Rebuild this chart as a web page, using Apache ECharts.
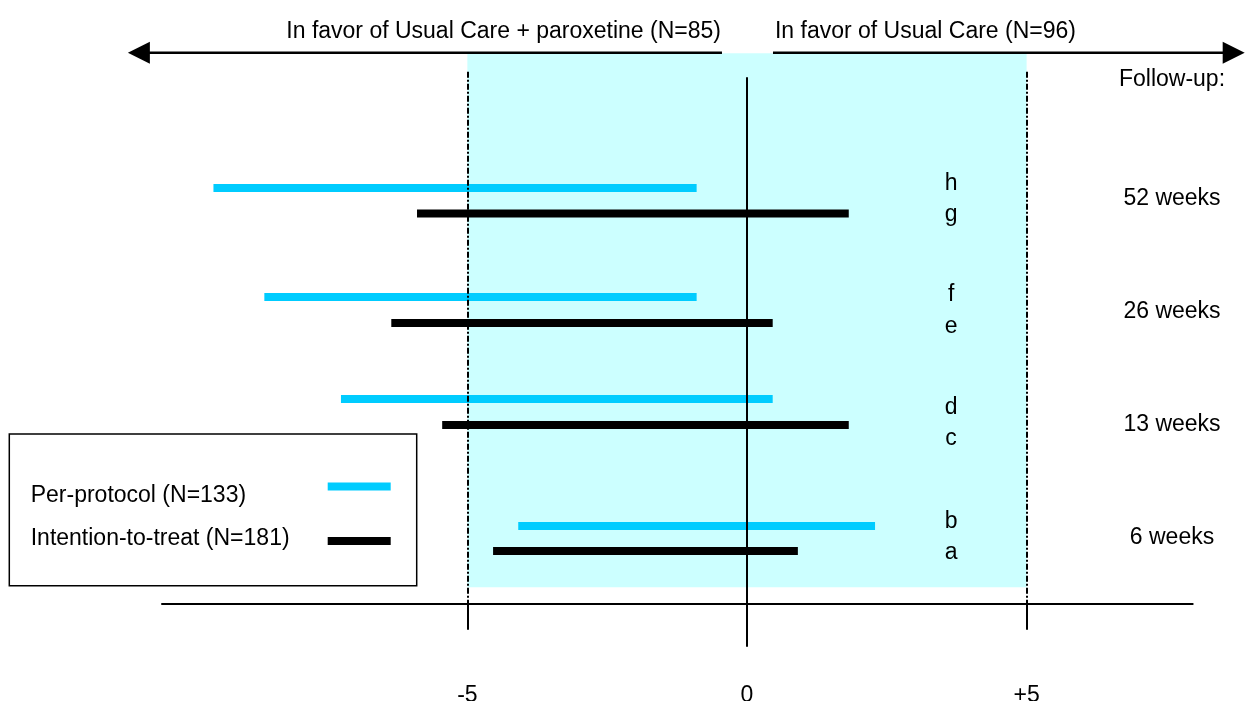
<!DOCTYPE html>
<html><head><meta charset="utf-8">
<script src="https://cdn.jsdelivr.net/npm/echarts@6/dist/echarts.min.js"></script>
<style>html,body{margin:0;padding:0;background:#fff}#chart{width:1247px;height:701px}</style>
</head><body><div id="chart"></div>
<script>
// ---------- data ----------
const followUp = ['52 weeks', '26 weeks', '13 weeks', '6 weeks'];
const perProtocolLow = [-9.54, -8.63, -7.26, -4.09];
const perProtocolHigh = [-0.90, -0.90, 0.46, 2.29];
const ittLow = [-5.90, -6.36, -5.45, -4.54];
const ittHigh = [1.82, 0.46, 1.82, 0.91];
const perProtocolLetters = ['h', 'f', 'd', 'b'];
const ittLetters = ['g', 'e', 'c', 'a'];
const tickValues = [-5, 0, 5];
const tickLabels = ['-5', '0', '+5'];
const equivalenceMargin = [-5, 5];
const seriesNames = ['Per-protocol (N=133)', 'Intention-to-treat (N=181)'];
const headerLeft = 'In favor of Usual Care + paroxetine (N=85)';
const headerRight = 'In favor of Usual Care (N=96)';
const followUpTitle = 'Follow-up:';

// ---------- layout (positions in axis units) ----------
const L = {
  xMin: -10.46, xMax: 7.97, yMin: -4.3, yMax: 56,
  ppRowY: [41.57, 30.67, 20.47, 7.77],
  ittRowY: [39.02, 28.07, 17.87, 5.27],
  ppLetterY: [42.0, 30.95, 19.6, 8.2],
  ittLetterY: [38.86, 27.67, 16.47, 5.07],
  followY: [40.47, 29.17, 17.87, 6.57],
  followTitleY: 52.37,
  letterX: 3.65, followX: 7.6,
  shadeBottom: 1.64, shadeTop: 55.04,
  dashTop: 53.2, zeroTop: 52.64,
  arrowY: 55.1, arrowLeft: -11.07, gapLeft: -0.447, gapRight: 0.465, arrowRight: 8.90,
  headerY: 57.2, headerLeftX: -0.465, headerRightX: 0.50,
  barH: 8, headLen: 22, headHalf: 11
};
const FONT = '"Liberation Sans", Arial, sans-serif';
const TXT = '23px ' + FONT;

const chart = echarts.init(document.getElementById('chart'), null, { renderer: 'canvas' });

function intervalRender(color, letters, letterY) {
  return function (params, api) {
    const i = params.dataIndex;
    const a = api.coord([api.value(0), api.value(2)]);
    const b = api.coord([api.value(1), api.value(2)]);
    const t = api.coord([L.letterX, letterY[i]]);
    return {
      type: 'group', children: [
        { type: 'rect', shape: { x: a[0], y: a[1] - L.barH / 2, width: b[0] - a[0], height: L.barH }, style: { fill: color } },
        { type: 'text', x: t[0], y: t[1], style: { text: letters[i], font: TXT, fill: '#000', align: 'center', verticalAlign: 'middle' } }
      ]
    };
  };
}

const ppData = perProtocolLow.map((v, i) => [v, perProtocolHigh[i], L.ppRowY[i]]);
const ittData = ittLow.map((v, i) => [v, ittHigh[i], L.ittRowY[i]]);
const followData = followUp.map((f, i) => [L.followX, L.followY[i], f]);

const option = {
  animation: false,
  backgroundColor: '#fff',
  grid: { left: 162, right: 54.3, top: 43.7, bottom: 54.3, outerBoundsMode: 'none', containLabel: false },
  xAxis: {
    type: 'value', min: L.xMin, max: L.xMax,
    axisLine: { onZero: true, lineStyle: { color: '#000', width: 2 } },
    axisTick: { show: true, customValues: tickValues, length: 26, lineStyle: { color: '#000', width: 2 } },
    axisLabel: {
      show: true, customValues: tickValues, margin: 37.3, color: '#000', fontSize: 23, fontFamily: FONT,
      formatter: v => tickLabels[tickValues.indexOf(Math.round(v))]
    },
    splitLine: { show: false }
  },
  yAxis: { type: 'value', min: L.yMin, max: L.yMax, show: false, splitLine: { show: false } },
  legend: {
    data: seriesNames.map(n => ({ name: n, icon: 'rect' })),
    orient: 'vertical', left: 9.3, top: 434, align: 'right',
    itemWidth: 63, itemHeight: 8, itemGap: 20.5,
    padding: [32, 26, 31.2, 21.4],
    borderColor: '#000', borderWidth: 1.5, backgroundColor: '#fff',
    selectedMode: false,
    itemStyle: { borderWidth: 0 },
    formatter: name => (name === seriesNames[0] ? '{a|' : '{b|') + name + '}',
    textStyle: {
      color: '#000', fontSize: 23, fontFamily: FONT,
      rich: {
        a: { width: 292, align: 'left', fontSize: 23, lineHeight: 24, padding: [18, 0, 0, 0], color: '#000', fontFamily: FONT },
        b: { width: 292, align: 'left', fontSize: 23, lineHeight: 24, padding: [0, 0, 4, 0], color: '#000', fontFamily: FONT }
      }
    }
  },
  series: [
    {
      name: 'reference', type: 'line', data: [], silent: true,
      markArea: {
        silent: true, itemStyle: { color: '#CCFFFF' },
        data: [[{ xAxis: equivalenceMargin[0], yAxis: L.shadeBottom }, { xAxis: equivalenceMargin[1], yAxis: L.shadeTop }]]
      },
      markLine: {
        silent: true, symbol: ['none', 'none'], label: { show: false },
        lineStyle: { color: '#000', width: 2, type: [6, 2, 2, 2] },
        emphasis: { disabled: true },
        data: [
          [{ coord: [equivalenceMargin[0], L.dashTop] }, { coord: [equivalenceMargin[0], 0] }],
          [{ coord: [equivalenceMargin[1], L.dashTop] }, { coord: [equivalenceMargin[1], 0] }],
          [{ coord: [0, L.zeroTop], lineStyle: { type: 'solid', width: 2, color: '#000' } }, { coord: [0, L.yMin] }]
        ]
      }
    },
    {
      name: seriesNames[0], type: 'custom', data: ppData, encode: { x: [0, 1], y: 2 },
      itemStyle: { color: '#00CCFF' }, silent: true,
      renderItem: intervalRender('#00CCFF', perProtocolLetters, L.ppLetterY)
    },
    {
      name: seriesNames[1], type: 'custom', data: ittData, encode: { x: [0, 1], y: 2 },
      itemStyle: { color: '#000000' }, silent: true,
      renderItem: intervalRender('#000000', ittLetters, L.ittLetterY)
    },
    {
      name: 'followup', type: 'custom', data: followData, encode: { x: 0, y: 1 }, silent: true,
      renderItem: function (params, api) {
        const i = params.dataIndex;
        const p = api.coord([api.value(0), api.value(1)]);
        const children = [{ type: 'text', x: p[0], y: p[1], style: { text: followUp[i], font: TXT, fill: '#000', align: 'center', verticalAlign: 'middle' } }];
        if (i === 0) {
          const q = api.coord([L.followX, L.followTitleY]);
          children.push({ type: 'text', x: q[0], y: q[1], style: { text: followUpTitle, font: TXT, fill: '#000', align: 'center', verticalAlign: 'middle' } });
        }
        return { type: 'group', children };
      }
    },
    {
      name: 'direction', type: 'custom', silent: true, encode: { x: [0, 1, 2, 3], y: 4 },
      data: [[L.arrowLeft, L.gapLeft, L.gapRight, L.arrowRight, L.arrowY]],
      renderItem: function (params, api) {
        const y = api.value(4);
        const lt = api.coord([api.value(0), y]);
        const gl = api.coord([api.value(1), y]);
        const gr = api.coord([api.value(2), y]);
        const rt = api.coord([api.value(3), y]);
        const hl = api.coord([L.headerLeftX, L.headerY]);
        const hr = api.coord([L.headerRightX, L.headerY]);
        const ls = { stroke: '#000', lineWidth: 2.5 };
        return {
          type: 'group', children: [
            { type: 'line', shape: { x1: lt[0] + L.headLen - 2, y1: lt[1], x2: gl[0], y2: gl[1] }, style: ls },
            { type: 'line', shape: { x1: gr[0], y1: gr[1], x2: rt[0] - L.headLen + 2, y2: rt[1] }, style: ls },
            { type: 'polygon', shape: { points: [[lt[0], lt[1]], [lt[0] + L.headLen, lt[1] - L.headHalf], [lt[0] + L.headLen, lt[1] + L.headHalf]] }, style: { fill: '#000' } },
            { type: 'polygon', shape: { points: [[rt[0], rt[1]], [rt[0] - L.headLen, rt[1] - L.headHalf], [rt[0] - L.headLen, rt[1] + L.headHalf]] }, style: { fill: '#000' } },
            { type: 'text', x: hl[0], y: hl[1], style: { text: headerLeft, font: TXT, fill: '#000', align: 'right', verticalAlign: 'middle' } },
            { type: 'text', x: hr[0], y: hr[1], style: { text: headerRight, font: TXT, fill: '#000', align: 'left', verticalAlign: 'middle' } }
          ]
        };
      }
    }
  ]
};
chart.setOption(option);
</script></body></html>
